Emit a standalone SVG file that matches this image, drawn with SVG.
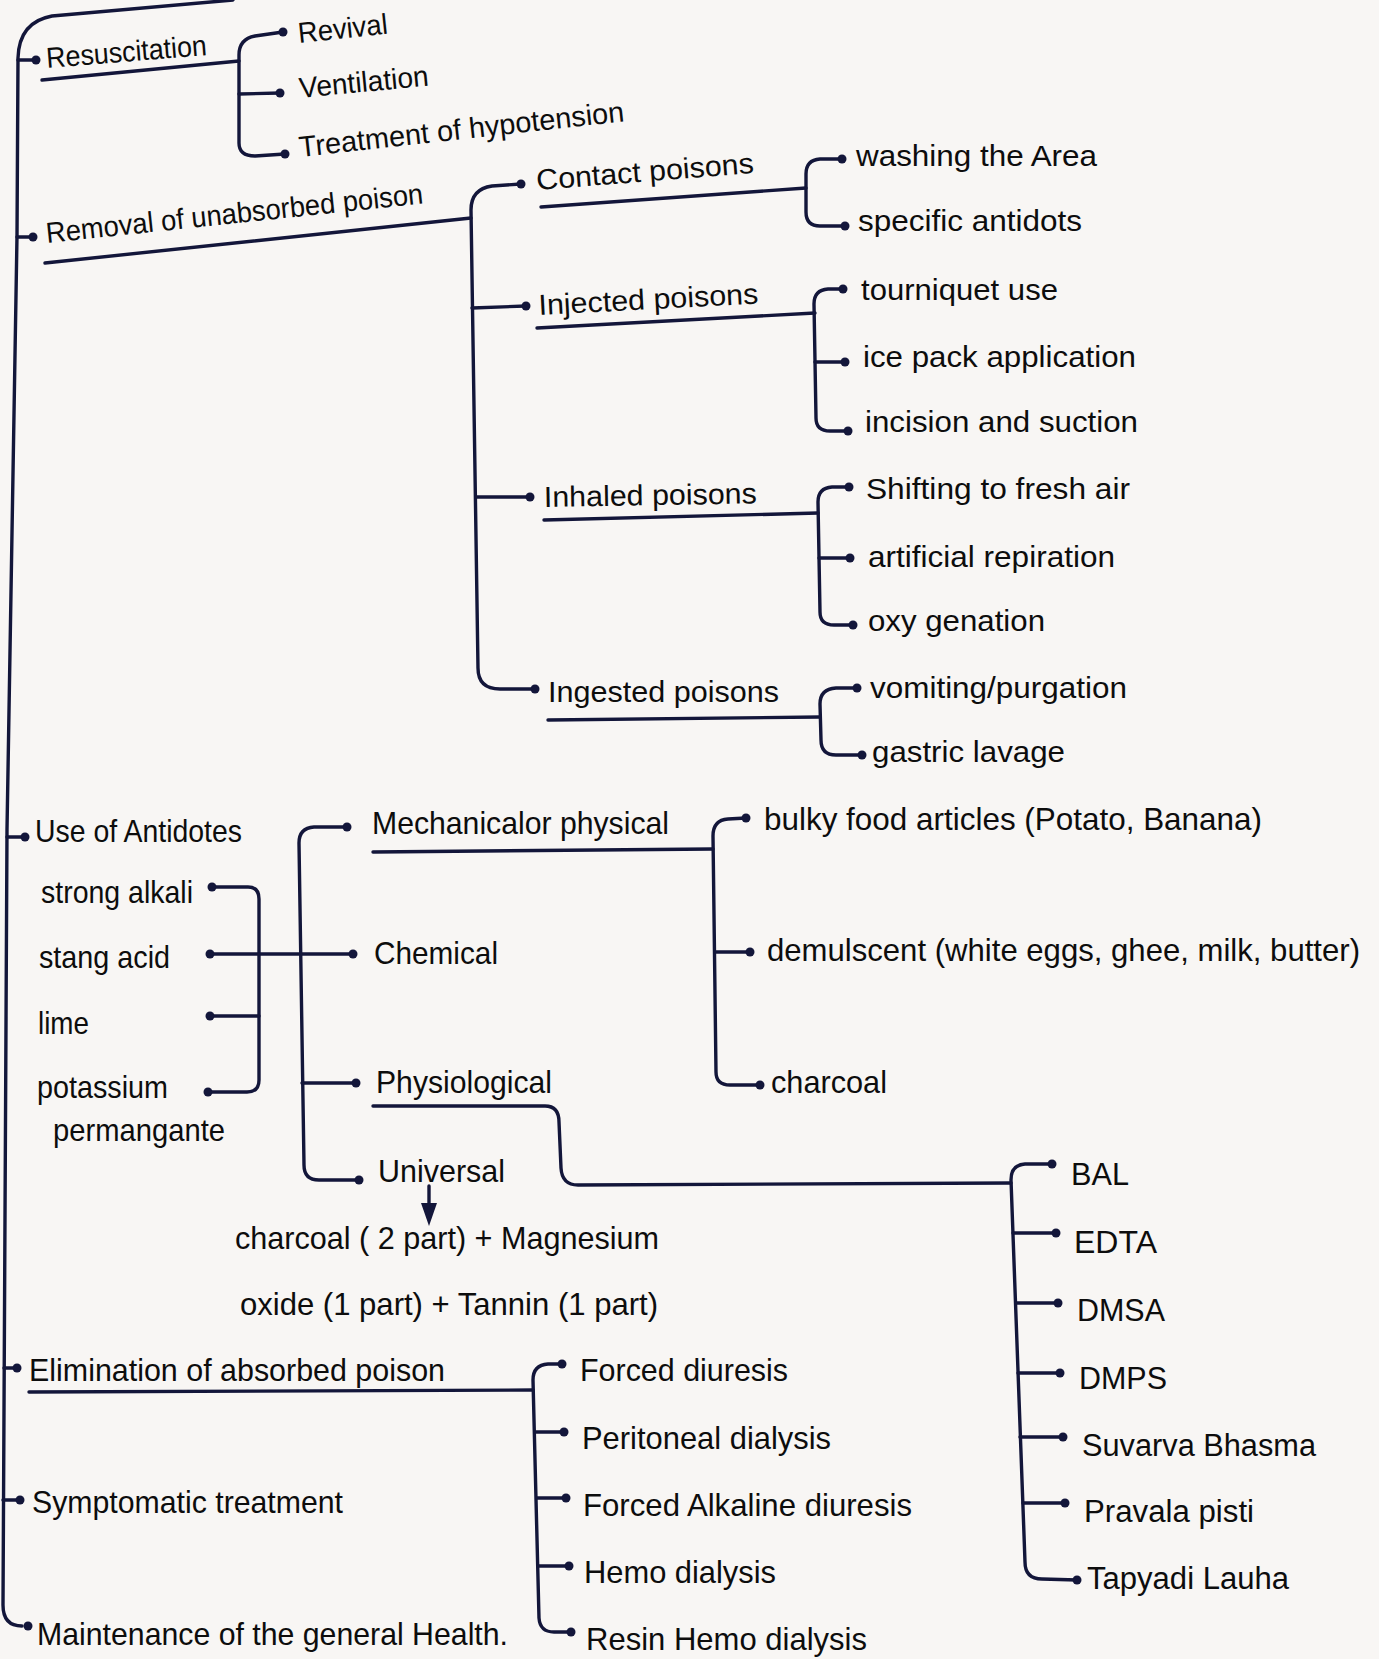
<svg xmlns="http://www.w3.org/2000/svg" width="1379" height="1659" viewBox="0 0 1379 1659">
<style>
.bg{fill:#f8f6f4}
.ln{fill:none;stroke:#13163a;stroke-width:3.4;stroke-linecap:round;stroke-linejoin:round}
.dot{fill:#13163a}
text{font-family:"Liberation Sans",Arial,sans-serif;font-size:29px;fill:#0d0d0d}
.lg{font-size:30.5px}
.big{font-size:31px}
</style>
<rect class="bg" x="0" y="0" width="1379" height="1659"/>

<g id="connectors">
  <path class="ln" d="M233,0 L52,16 Q19,22 18,58 L17,236 L7,830 L3,1605 Q3,1626 22,1626"/>
  <path class="ln" d="M18,60 L36,60"/>
  <path class="ln" d="M17,237 L33,237"/>
  <path class="ln" d="M7,837 L25,837"/>
  <path class="ln" d="M4,1368 L17,1368"/>
  <path class="ln" d="M3,1500 L20,1500"/>
  <circle class="dot" cx="36" cy="60" r="4.5"/>
  <circle class="dot" cx="33" cy="237" r="4.5"/>
  <circle class="dot" cx="25" cy="837" r="4.5"/>
  <circle class="dot" cx="17" cy="1368" r="4.5"/>
  <circle class="dot" cx="20" cy="1500" r="4.5"/>
  <circle class="dot" cx="28" cy="1626" r="4.5"/>

  <path class="ln" d="M42,80 L239,61"/>
  <path class="ln" d="M283,32 L255,36 Q239,39 239,55 L239,143 Q239,156 255,156 L285,154"/>
  <path class="ln" d="M239,94 L280,93"/>
  <circle class="dot" cx="283" cy="32" r="4.5"/>
  <circle class="dot" cx="280" cy="93" r="4.5"/>
  <circle class="dot" cx="285" cy="154" r="4.5"/>

  <path class="ln" d="M45,263 L471,218"/>
  <path class="ln" d="M521,184 L492,186 Q471,189 471,210 L478,668 Q478,689 500,689 L535,689"/>
  <path class="ln" d="M472,308 L526,306"/>
  <path class="ln" d="M476,497 L530,497"/>
  <circle class="dot" cx="521" cy="184" r="4.5"/>
  <circle class="dot" cx="526" cy="306" r="4.5"/>
  <circle class="dot" cx="530" cy="497" r="4.5"/>
  <circle class="dot" cx="535" cy="689" r="4.5"/>

  <path class="ln" d="M541,207 L806,188"/>
  <path class="ln" d="M842,159 L820,159 Q806,160 806,174 L806,212 Q806,226 820,226 L845,226"/>
  <circle class="dot" cx="842" cy="159" r="4.5"/>
  <circle class="dot" cx="845" cy="226" r="4.5"/>

  <path class="ln" d="M537,328 L815,313"/>
  <path class="ln" d="M843,289 L828,289 Q814,290 814,304 L816,418 Q816,431 830,431 L848,431"/>
  <path class="ln" d="M815,362 L845,362"/>
  <circle class="dot" cx="843" cy="289" r="4.5"/>
  <circle class="dot" cx="845" cy="362" r="4.5"/>
  <circle class="dot" cx="848" cy="431" r="4.5"/>

  <path class="ln" d="M544,520 L818,513"/>
  <path class="ln" d="M849,487 L832,487 Q818,488 818,502 L820,612 Q820,625 834,625 L853,625"/>
  <path class="ln" d="M819,558 L850,558"/>
  <circle class="dot" cx="849" cy="487" r="4.5"/>
  <circle class="dot" cx="850" cy="558" r="4.5"/>
  <circle class="dot" cx="853" cy="625" r="4.5"/>

  <path class="ln" d="M548,720 L820,717"/>
  <path class="ln" d="M857,688 L836,688 Q820,689 820,704 L821,740 Q821,755 836,755 L862,755"/>
  <circle class="dot" cx="857" cy="688" r="4.5"/>
  <circle class="dot" cx="862" cy="755" r="4.5"/>

  <path class="ln" d="M212,887 L248,887 Q259,887 259,899 L259,1080 Q259,1092 247,1092 L208,1092"/>
  <path class="ln" d="M210,1016 L259,1016"/>
  <path class="ln" d="M210,954 L353,954"/>
  <circle class="dot" cx="212" cy="887" r="4.5"/>
  <circle class="dot" cx="210" cy="954" r="4.5"/>
  <circle class="dot" cx="210" cy="1016" r="4.5"/>
  <circle class="dot" cx="208" cy="1092" r="4.5"/>
  <circle class="dot" cx="353" cy="954" r="4.5"/>

  <path class="ln" d="M347,827 L314,827 Q299,828 299,843 L304,1165 Q304,1180 319,1180 L359,1180"/>
  <path class="ln" d="M302,1083 L356,1083"/>
  <circle class="dot" cx="347" cy="827" r="4.5"/>
  <circle class="dot" cx="356" cy="1083" r="4.5"/>
  <circle class="dot" cx="359" cy="1180" r="4.5"/>

  <path class="ln" d="M429,1186 L429,1206"/>
  <polygon class="dot" points="421,1203 437,1203 429,1226"/>

  <path class="ln" d="M373,852 L713,849"/>
  <path class="ln" d="M746,818 L728,819 Q713,820 713,836 L716,1072 Q716,1085 730,1085 L760,1085"/>
  <path class="ln" d="M715,952 L750,952"/>
  <circle class="dot" cx="746" cy="818" r="4.5"/>
  <circle class="dot" cx="750" cy="952" r="4.5"/>
  <circle class="dot" cx="760" cy="1085" r="4.5"/>

  <path class="ln" d="M373,1106 L545,1106 Q559,1106 559,1122 L561,1168 Q562,1185 578,1185 L1011,1183"/>
  <path class="ln" d="M1052,1164 L1025,1164 Q1011,1165 1011,1180 L1025,1562 Q1025,1579 1042,1579 L1077,1580"/>
  <path class="ln" d="M1013,1233 L1056,1233"/>
  <path class="ln" d="M1016,1303 L1058,1303"/>
  <path class="ln" d="M1018,1373 L1060,1373"/>
  <path class="ln" d="M1020,1437 L1063,1437"/>
  <path class="ln" d="M1023,1503 L1065,1503"/>
  <circle class="dot" cx="1052" cy="1164" r="4.5"/>
  <circle class="dot" cx="1056" cy="1233" r="4.5"/>
  <circle class="dot" cx="1058" cy="1303" r="4.5"/>
  <circle class="dot" cx="1060" cy="1373" r="4.5"/>
  <circle class="dot" cx="1063" cy="1437" r="4.5"/>
  <circle class="dot" cx="1065" cy="1503" r="4.5"/>
  <circle class="dot" cx="1077" cy="1580" r="4.5"/>

  <path class="ln" d="M29,1392 L533,1390"/>
  <path class="ln" d="M562,1364 L548,1364 Q533,1365 533,1380 L539,1618 Q540,1632 554,1632 L571,1632"/>
  <path class="ln" d="M535,1432 L564,1432"/>
  <path class="ln" d="M537,1498 L566,1498"/>
  <path class="ln" d="M538,1566 L569,1566"/>
  <circle class="dot" cx="562" cy="1364" r="4.5"/>
  <circle class="dot" cx="564" cy="1432" r="4.5"/>
  <circle class="dot" cx="566" cy="1498" r="4.5"/>
  <circle class="dot" cx="569" cy="1566" r="4.5"/>
  <circle class="dot" cx="571" cy="1632" r="4.5"/>
</g>

<g id="n-resuscitation"><text x="47" y="68" transform="rotate(-4.6 47 68)" textLength="161" lengthAdjust="spacingAndGlyphs">Resuscitation</text></g>
<g id="n-revival"><text x="299" y="43" transform="rotate(-6 299 43)" textLength="90" lengthAdjust="spacingAndGlyphs">Revival</text></g>
<g id="n-ventilation"><text x="300" y="98" transform="rotate(-5.5 300 98)" textLength="130" lengthAdjust="spacingAndGlyphs">Ventilation</text></g>
<g id="n-hypotension"><text x="300" y="157" transform="rotate(-6.3 300 157)" textLength="327" lengthAdjust="spacingAndGlyphs">Treatment of hypotension</text></g>
<g id="n-removal"><text x="47" y="243" transform="rotate(-6 47 243)" textLength="379" lengthAdjust="spacingAndGlyphs">Removal of unabsorbed poison</text></g>
<g id="n-contact"><text x="537" y="190" transform="rotate(-4.5 537 190)" textLength="218" lengthAdjust="spacingAndGlyphs">Contact poisons</text></g>
<g id="n-injected"><text x="539" y="315" transform="rotate(-3 539 315)" textLength="220" lengthAdjust="spacingAndGlyphs">Injected poisons</text></g>
<g id="n-inhaled"><text x="544" y="507" transform="rotate(-1 544 507)" textLength="213" lengthAdjust="spacingAndGlyphs">Inhaled poisons</text></g>
<g id="n-ingested"><text x="548" y="702" textLength="231" lengthAdjust="spacingAndGlyphs">Ingested poisons</text></g>

<g id="n-washing"><text x="856" y="166" textLength="241" lengthAdjust="spacingAndGlyphs">washing the Area</text></g>
<g id="n-specific"><text x="858" y="231" textLength="224" lengthAdjust="spacingAndGlyphs">specific antidots</text></g>
<g id="n-tourniquet"><text x="861" y="300" textLength="197" lengthAdjust="spacingAndGlyphs">tourniquet use</text></g>
<g id="n-icepack"><text x="863" y="367" textLength="273" lengthAdjust="spacingAndGlyphs">ice pack application</text></g>
<g id="n-incision"><text x="865" y="432" textLength="273" lengthAdjust="spacingAndGlyphs">incision and suction</text></g>
<g id="n-shifting"><text x="866" y="499" textLength="264" lengthAdjust="spacingAndGlyphs">Shifting to fresh air</text></g>
<g id="n-artificial"><text x="868" y="567" textLength="247" lengthAdjust="spacingAndGlyphs">artificial repiration</text></g>
<g id="n-oxy"><text x="868" y="631" textLength="177" lengthAdjust="spacingAndGlyphs">oxy genation</text></g>
<g id="n-vomiting"><text x="870" y="698" textLength="257" lengthAdjust="spacingAndGlyphs">vomiting/purgation</text></g>
<g id="n-gastric"><text x="872" y="762" textLength="193" lengthAdjust="spacingAndGlyphs">gastric lavage</text></g>

<g id="n-antidotes"><text class="lg" x="35" y="842" textLength="207" lengthAdjust="spacingAndGlyphs">Use of Antidotes</text></g>
<g id="n-alkali"><text class="lg" x="41" y="903" textLength="152" lengthAdjust="spacingAndGlyphs">strong alkali</text></g>
<g id="n-acid"><text class="lg" x="39" y="968" textLength="131" lengthAdjust="spacingAndGlyphs">stang acid</text></g>
<g id="n-lime"><text class="lg" x="38" y="1034" textLength="51" lengthAdjust="spacingAndGlyphs">lime</text></g>
<g id="n-potassium"><text class="lg" x="37" y="1098" textLength="131" lengthAdjust="spacingAndGlyphs">potassium</text><text class="lg" x="53" y="1141" textLength="172" lengthAdjust="spacingAndGlyphs">permangante</text></g>
<g id="n-mechanical"><text class="lg" x="372" y="834" textLength="297" lengthAdjust="spacingAndGlyphs">Mechanicalor physical</text></g>
<g id="n-chemical"><text class="lg" x="374" y="964" textLength="124" lengthAdjust="spacingAndGlyphs">Chemical</text></g>
<g id="n-physiological"><text class="lg" x="376" y="1093" textLength="176" lengthAdjust="spacingAndGlyphs">Physiological</text></g>
<g id="n-universal"><text class="lg" x="378" y="1182" textLength="127" lengthAdjust="spacingAndGlyphs">Universal</text></g>
<g id="n-universal-mix"><text class="lg" x="235" y="1249" textLength="424" lengthAdjust="spacingAndGlyphs">charcoal ( 2 part) + Magnesium</text><text class="lg" x="240" y="1315" textLength="418" lengthAdjust="spacingAndGlyphs">oxide (1 part) + Tannin (1 part)</text></g>
<g id="n-bulky"><text class="lg" x="764" y="830" textLength="498" lengthAdjust="spacingAndGlyphs">bulky food articles (Potato, Banana)</text></g>
<g id="n-demulscent"><text class="lg" x="767" y="961" textLength="593" lengthAdjust="spacingAndGlyphs">demulscent (white eggs, ghee, milk, butter)</text></g>
<g id="n-charcoal"><text class="lg" x="771" y="1093" textLength="116" lengthAdjust="spacingAndGlyphs">charcoal</text></g>

<g id="n-bal"><text class="big" x="1071" y="1185" textLength="58" lengthAdjust="spacingAndGlyphs">BAL</text></g>
<g id="n-edta"><text class="big" x="1074" y="1253" textLength="83" lengthAdjust="spacingAndGlyphs">EDTA</text></g>
<g id="n-dmsa"><text class="big" x="1077" y="1321" textLength="88" lengthAdjust="spacingAndGlyphs">DMSA</text></g>
<g id="n-dmps"><text class="big" x="1079" y="1389" textLength="88" lengthAdjust="spacingAndGlyphs">DMPS</text></g>
<g id="n-suvarva"><text class="big" x="1082" y="1456" textLength="234" lengthAdjust="spacingAndGlyphs">Suvarva Bhasma</text></g>
<g id="n-pravala"><text class="big" x="1084" y="1522" textLength="170" lengthAdjust="spacingAndGlyphs">Pravala pisti</text></g>
<g id="n-tapyadi"><text class="big" x="1087" y="1589" textLength="202" lengthAdjust="spacingAndGlyphs">Tapyadi Lauha</text></g>

<g id="n-elimination"><text class="lg" x="29" y="1381" textLength="416" lengthAdjust="spacingAndGlyphs">Elimination of absorbed poison</text></g>
<g id="n-symptomatic"><text class="lg" x="32" y="1513" textLength="311" lengthAdjust="spacingAndGlyphs">Symptomatic treatment</text></g>
<g id="n-maintenance"><text class="lg" x="37" y="1645" textLength="471" lengthAdjust="spacingAndGlyphs">Maintenance of the general Health.</text></g>
<g id="n-forced"><text class="lg" x="580" y="1381" textLength="208" lengthAdjust="spacingAndGlyphs">Forced diuresis</text></g>
<g id="n-peritoneal"><text class="lg" x="582" y="1449" textLength="249" lengthAdjust="spacingAndGlyphs">Peritoneal dialysis</text></g>
<g id="n-alkaline"><text class="lg" x="583" y="1516" textLength="329" lengthAdjust="spacingAndGlyphs">Forced Alkaline diuresis</text></g>
<g id="n-hemo"><text class="lg" x="584" y="1583" textLength="192" lengthAdjust="spacingAndGlyphs">Hemo dialysis</text></g>
<g id="n-resin"><text class="lg" x="586" y="1650" textLength="281" lengthAdjust="spacingAndGlyphs">Resin Hemo dialysis</text></g>
</svg>
